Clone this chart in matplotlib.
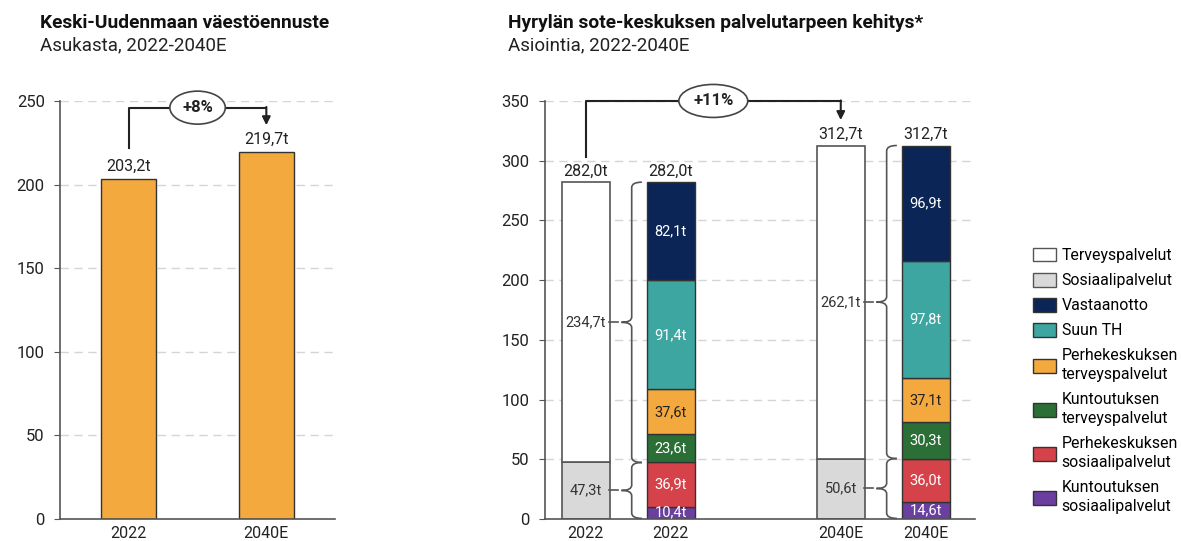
import matplotlib.pyplot as plt
from matplotlib.path import Path
from matplotlib.patches import PathPatch, Patch
import numpy as np

plt.rcParams['font.family'] = ['Roboto', 'DejaVu Sans']

# --- data ---
vuodet = ['2022', '2040E']
asukkaat = [203.2, 219.7]          # tuhatta asukasta

terveys = [234.7, 262.1]
sosiaali = [47.3, 50.6]
# pinon järjestys alhaalta ylös
osat = ['Kuntoutuksen\nsosiaalipalvelut', 'Perhekeskuksen\nsosiaalipalvelut',
        'Kuntoutuksen\nterveyspalvelut', 'Perhekeskuksen\nterveyspalvelut',
        'Suun TH', 'Vastaanotto']
kuntoutus_sos = [10.4, 14.6]
perhe_sos = [36.9, 36.0]
kuntoutus_terv = [23.6, 30.3]
perhe_terv = [37.6, 37.1]
suun_th = [91.4, 97.8]
vastaanotto = [82.1, 96.9]
yhteensa = [282.0, 312.7]

muutos_vaesto = '+8%'
muutos_asiointi = '+11%'

# --- värit ---
ORANSSI = '#F4A93E'
VARIT = ['#6B3FA0', '#D6424A', '#2B6F37', '#F4A93E', '#3DA6A1', '#0B2656']
TEKSTI = ['white', 'white', 'white', '#222222', 'white', 'white']
HARMAA = '#D9D9D9'
REUNA = '#333333'
VIIVA = '#555555'


def fmt(v):
    return f'{v:.1f}'.replace('.', ',') + 't'


def tyyli(ax, ymax, step):
    ax.set_ylim(0, ymax)
    ax.set_yticks(np.arange(0, ymax + 1, step))
    for y in np.arange(step, ymax + 1, step):
        ax.axhline(y, color='#D5D5D5', lw=1, ls=(0, (6, 4)), zorder=0)
    for s in ['top', 'right']:
        ax.spines[s].set_visible(False)
    for s in ['left', 'bottom']:
        ax.spines[s].set_color(VIIVA)
        ax.spines[s].set_linewidth(1.2)
    ax.tick_params(axis='y', length=4, color=VIIVA, labelsize=12, labelcolor='#222222', pad=7)
    ax.tick_params(axis='x', length=0, labelsize=11.5, labelcolor='#222222', pad=5)


def sulku(ax, x0, y0, y1, dx, dy):
    # aaltosulku, kärki vasemmalle
    ym = (y0 + y1) / 2
    verts = [(x0 + dx, y1), (x0, y1), (x0, y1 - dy),
             (x0, ym + dy), (x0, ym), (x0 - dx, ym),
             (x0, ym), (x0, ym - dy),
             (x0, y0 + dy), (x0, y0), (x0 + dx, y0)]
    codes = [Path.MOVETO, Path.CURVE3, Path.CURVE3,
             Path.LINETO, Path.CURVE3, Path.CURVE3,
             Path.CURVE3, Path.CURVE3,
             Path.LINETO, Path.CURVE3, Path.CURVE3]
    ax.add_patch(PathPatch(Path(verts, codes), fc='none', ec=VIIVA, lw=1.2, clip_on=False))
    ax.plot([x0 - 2.2 * dx, x0 - 1.3 * dx], [ym, ym], color=VIIVA, lw=1.2, clip_on=False)


def nuoli(ax, x0, x1, ya, yb, ytop, teksti):
    ax.plot([x0, x0, x1], [ya, ytop, ytop], color='#222222', lw=1.5, clip_on=False, zorder=4)
    ax.annotate('', xy=(x1, yb), xytext=(x1, ytop + 0.4),
                arrowprops=dict(arrowstyle='-|>', color='#222222', lw=1.5,
                                mutation_scale=12, shrinkA=0, shrinkB=0),
                annotation_clip=False, zorder=4)
    ax.text((x0 + x1) / 2, ytop, teksti, ha='center', va='center', fontsize=12,
            fontweight='bold', color='#222222', zorder=5,
            bbox=dict(boxstyle='ellipse,pad=0.25', fc='white', ec='#444444', lw=1.2))


fig = plt.figure(figsize=(11.82, 5.41), dpi=100)

# --- vasen kuva ---
ax1 = fig.add_axes([0.0508, 0.0407, 0.2327, 0.7727])
x1 = np.arange(len(vuodet))
ax1.bar(x1, asukkaat, width=0.4, color=ORANSSI, edgecolor=REUNA, lw=1, zorder=2)
for x, v in zip(x1, asukkaat):
    ax1.text(x, v + 3, fmt(v), ha='center', va='bottom', fontsize=11.5, color='#222222')
ax1.set_xlim(-0.5, 1.5)
ax1.set_xticks(x1)
ax1.set_xticklabels(vuodet)
tyyli(ax1, 250, 50)
nuoli(ax1, 0, 1, 222, 235.5, 246, muutos_vaesto)

fig.text(0.034, 0.958, 'Keski-Uudenmaan väestöennuste', fontsize=13.8, fontweight='bold',
         color='#111111', va='center')
fig.text(0.034, 0.917, 'Asukasta, 2022-2040E', fontsize=13.5, color='#222222', va='center')

# --- oikea kuva ---
ax2 = fig.add_axes([0.4611, 0.0407, 0.3638, 0.7727])
pos_koko = np.array([0, 3])
pos_pino = np.array([1, 4])
lev = 0.56

ax2.bar(pos_koko, sosiaali, width=lev, color=HARMAA, edgecolor=VIIVA, lw=1.2, zorder=2)
ax2.bar(pos_koko, terveys, bottom=sosiaali, width=lev, color='white', edgecolor=VIIVA,
        lw=1.2, zorder=2)
for x, s, t in zip(pos_koko, sosiaali, terveys):
    ax2.text(x, s / 2, fmt(s), ha='center', va='center', fontsize=10.5, color='#333333')
    ax2.text(x, s + t / 2, fmt(t), ha='center', va='center', fontsize=10.5, color='#333333')

sarjat = [kuntoutus_sos, perhe_sos, kuntoutus_terv, perhe_terv, suun_th, vastaanotto]
pohja = np.zeros(2)
for sarja, vari, tv in zip(sarjat, VARIT, TEKSTI):
    arvot = np.array(sarja)
    ax2.bar(pos_pino, arvot, bottom=pohja, width=lev, color=vari, edgecolor=REUNA,
            lw=1, zorder=2)
    for x, b, v in zip(pos_pino, pohja, arvot):
        ax2.text(x, b + v / 2, fmt(v), ha='center', va='center', fontsize=10.5, color=tv)
    pohja = pohja + arvot

for xs in (pos_koko, pos_pino):
    for x, v in zip(xs, yhteensa):
        ax2.text(x, v + 3, fmt(v), ha='center', va='bottom', fontsize=11.5, color='#222222')

for i, x in enumerate(pos_koko):
    sulku(ax2, x + 0.54, 0.5, sosiaali[i], 0.12, 4.5)
    sulku(ax2, x + 0.54, sosiaali[i], yhteensa[i], 0.12, 4.5)

ax2.set_xlim(-0.48, 4.58)
ax2.set_xticks(np.concatenate([pos_koko, pos_pino]))
ax2.set_xticklabels([vuodet[0], vuodet[1], vuodet[0], vuodet[1]])
tyyli(ax2, 350, 50)
nuoli(ax2, 0, 3, 303, 334, 350, muutos_asiointi)

fig.text(0.43, 0.958, 'Hyrylän sote-keskuksen palvelutarpeen kehitys*', fontsize=13.8,
         fontweight='bold', color='#111111', va='center')
fig.text(0.43, 0.917, 'Asiointia, 2022-2040E', fontsize=13.5, color='#222222', va='center')

# --- selite ---
kahvat = [Patch(fc='white', ec=VIIVA, label='Terveyspalvelut'),
          Patch(fc=HARMAA, ec=VIIVA, label='Sosiaalipalvelut')]
for nimi, vari in list(zip(osat, VARIT))[::-1]:
    kahvat.append(Patch(fc=vari, ec=REUNA, label=nimi))
leg = fig.legend(handles=kahvat, loc='upper left', bbox_to_anchor=(0.874, 0.542),
                 frameon=False, fontsize=11.4, handlelength=1.45, handleheight=0.95,
                 labelspacing=0.62, handletextpad=0.35, borderaxespad=0, borderpad=0)
for t in leg.get_texts():
    t.set_linespacing(1.35)

fig.savefig('out.png', dpi=100)
